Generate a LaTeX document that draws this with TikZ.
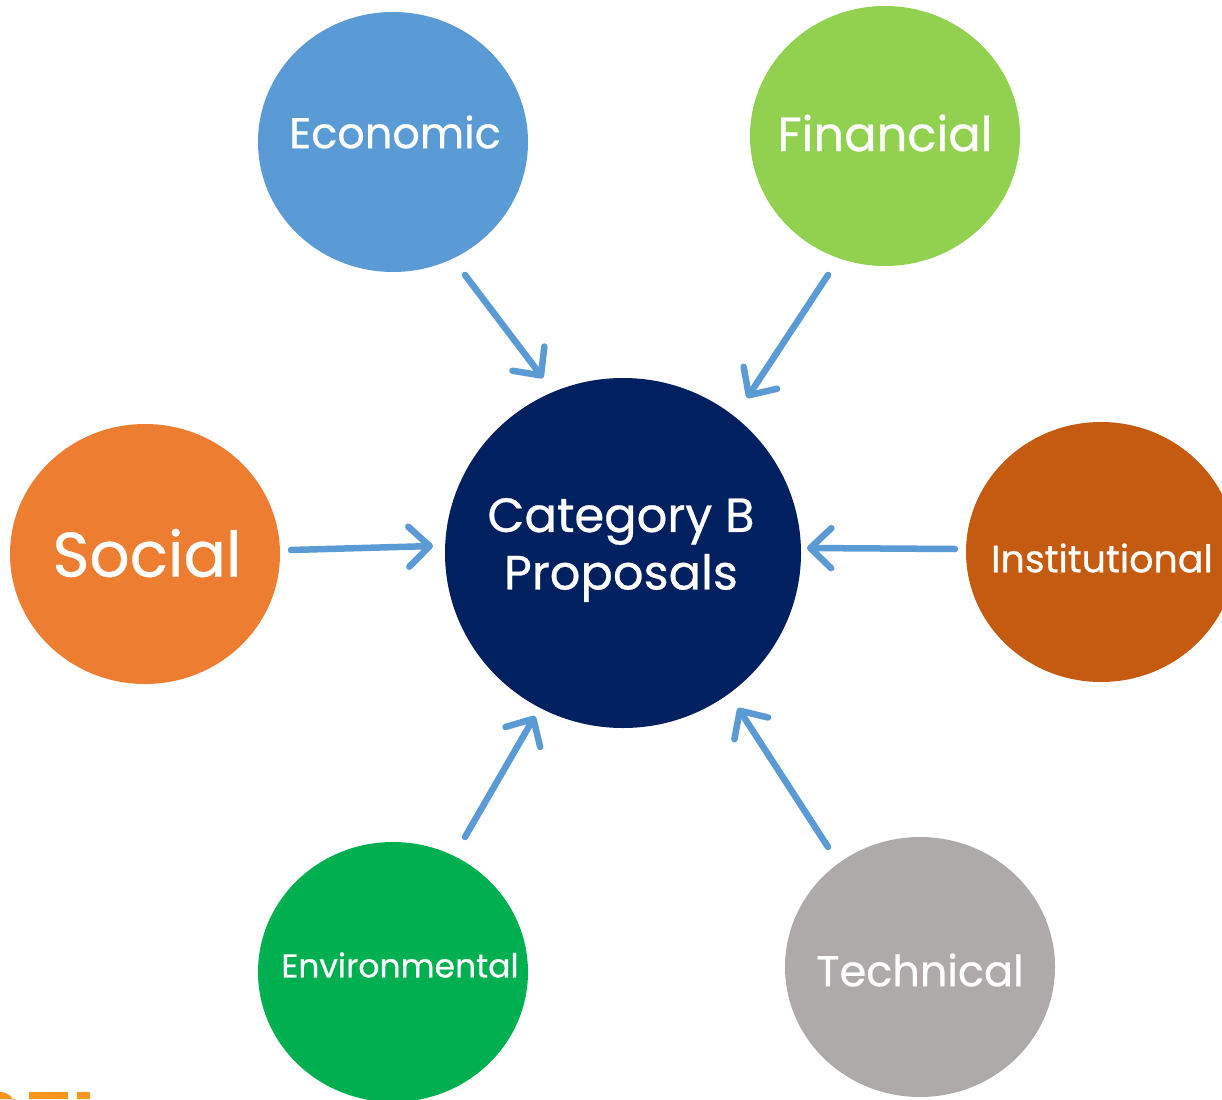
\documentclass[tikz,border=0pt]{standalone}
\usepackage{fontspec}
\setmainfont{Poppins}[FakeBold=0.6]
\usetikzlibrary{arrows.meta,shapes.geometric}
\definecolor{ecoblue}{HTML}{5B9BD5}
\definecolor{fingreen}{HTML}{92D050}
\definecolor{navy}{HTML}{002060}
\definecolor{socorange}{HTML}{ED7D31}
\definecolor{instbrown}{HTML}{C55A11}
\definecolor{envgreen}{HTML}{00B050}
\definecolor{techgray}{HTML}{AEAAAA}
\definecolor{fragorange}{HTML}{F7941D}
\tikzset{
  blob/.style={ellipse, minimum width=270pt, minimum height=260pt, inner sep=0pt, draw=none, text=white},
  lbl/.style={text=white, inner sep=0pt, anchor=center},
  conn/.style={draw=ecoblue, line width=6.5pt, line cap=round, line join=round,
    -{Straight Barb[length=21pt, width=40pt, line width=6.5pt, round]}},
  fsz/.style={font=\fontsize{#1}{#1}\selectfont}
}
\begin{document}
\begin{tikzpicture}[x=1pt,y=-1pt]
\useasboundingbox (0,0) rectangle (1222,1099);
\clip (0,0) rectangle (1222,1099);
\fill[white] (0,0) rectangle (1222,1099);
% circles
\node[blob, fill=ecoblue] (eco) at (393,142) {};
\node[blob, fill=fingreen] (fin) at (885,136) {};
\node[blob, fill=socorange] (soc) at (145,554) {};
\node[blob, fill=instbrown] (inst) at (1101,552) {};
\node[blob, fill=envgreen] (env) at (393,972) {};
\node[blob, fill=techgray] (tech) at (920,967) {};
\node[ellipse, minimum width=356pt, minimum height=350pt, inner sep=0pt, fill=navy] (cen) at (623,553) {};
% labels
\node[lbl, fsz=43] (ecot) at (395,132) {Economic};
\node[lbl, fsz=48] (fint) at (885,133) {Financial};
\node[lbl, fsz=63] (soct) at (147,553) {Social};
\node[lbl, fsz=38] (instt) at (1102,558) {Institutional};
\node[lbl, fsz=33] (envt) at (400,965) {Environmental};
\node[lbl, fsz=43] (techt) at (920,970) {Technical};
\node[lbl, fsz=48, align=center] (cent) at (621,550) {Category B\\[8pt]Proposals};
% arrow end coordinates
\coordinate (a1) at (465,275); \coordinate (b1) at (543,378);
\coordinate (a2) at (828,275); \coordinate (b2) at (747,398);
\coordinate (a3) at (291,550); \coordinate (b3) at (433,546);
\coordinate (a4) at (955,549); \coordinate (b4) at (807,548);
\coordinate (a5) at (465,837); \coordinate (b5) at (535,716);
\coordinate (a6) at (828,847); \coordinate (b6) at (738,708);
\draw[conn] (a1) -- (b1);
\draw[conn] (a2) -- (b2);
\draw[conn] (a3) -- (b3);
\draw[conn] (a4) -- (b4);
\draw[conn] (a5) -- (b5);
\draw[conn] (a6) -- (b6);
% cut-off orange fragment at bottom-left
\fill[fragorange] (0,1092) arc[start angle=90, end angle=10, x radius=16pt, y radius=16pt] -- (15,1099) -- (0,1099) -- cycle;
\fill[fragorange] (29,1092) rectangle (68,1099);
\fill[fragorange] (77,1092) rectangle (90,1099);
\end{tikzpicture}
\end{document}
